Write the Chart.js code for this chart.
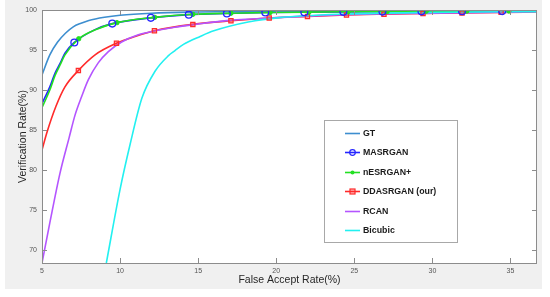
<!DOCTYPE html>
<html>
<head>
<meta charset="utf-8">
<script src="https://cdn.jsdelivr.net/npm/chart.js@4/dist/chart.umd.min.js"></script>
<style>
  html, body { margin:0; padding:0; background:#fff; }
  #wrap { width:550px; height:297px; }
</style>
</head>
<body>
<div id="wrap"><canvas id="chart"></canvas></div>
<script>
// ----- Dados
const seriesNames = ['GT', 'MASRGAN', 'nESRGAN+', 'DDASRGAN (our)', 'RCAN', 'Bicubic'];
const xTicks = [5, 10, 15, 20, 25, 30, 35];
const yTicks = [70, 75, 80, 85, 90, 95, 100];

const gtX = [5, 5.5, 6, 6.5, 7, 7.5, 8, 9, 10, 12, 15, 20, 25, 30, 36.7];
const gtY = [91.9, 94.4, 96.0, 97.1, 97.9, 98.35, 98.7, 99.1, 99.35, 99.6, 99.75, 99.87, 99.93, 99.97, 100];

const masX = [5, 5.5, 5.83, 6.15, 6.47, 8.4, 36.7];
const masY = [88.3, 90.4, 92.1, 93.3, 94.6, 97.55, 99.88];
const masMarkX = [7.07, 9.5, 11.97, 14.4, 16.84, 19.3, 21.8, 24.3, 26.8, 29.3, 31.9, 34.47];
const masMarkY = [95.95, 98.3, 99.02, 99.42, 99.57, 99.68, 99.73, 99.77, 99.8, 99.83, 99.85, 99.86];

const nesX = [5, 5.5, 5.83, 6.15, 6.47, 8.5, 36.7];
const nesY = [87.8, 90.0, 91.8, 93.1, 94.4, 97.6, 99.9];
const nesMarkX = [7.35, 9.8, 12.22, 14.66, 17.1, 19.6, 22.1, 24.6, 27.1, 29.6, 32.2, 34.9];
const nesMarkY = [96.4, 98.42, 99.08, 99.46, 99.6, 99.68, 99.74, 99.78, 99.81, 99.84, 99.86, 99.88];

const ddaX = [5, 5.3, 5.9, 6.47, 8.4, 10.96, 36.7];
const ddaY = [82.5, 84.6, 88.0, 90.4, 94.4, 96.7, 99.75];
const ddaMarkX = [7.33, 9.77, 12.2, 14.66, 17.1, 19.55, 22.0, 24.5, 26.9, 29.4, 31.9, 34.4];
const ddaMarkY = [92.45, 95.85, 97.42, 98.2, 98.65, 99.0, 99.2, 99.38, 99.48, 99.56, 99.62, 99.7];

const rcanX = [5, 5.5, 6.15, 6.73, 7.12, 7.54, 7.97, 8.6, 9.25, 10.1, 11.17, 12.24, 13.5, 15, 17, 20, 25, 30, 36.7];
const rcanY = [68.4, 73.4, 79.6, 84.0, 86.9, 89.2, 91.3, 93.4, 94.8, 96.0, 96.9, 97.4, 97.85, 98.25, 98.7, 99.05, 99.45, 99.6, 99.78];

const bicX = [9.12, 10.0, 10.64, 11.4, 12.24, 13.1, 13.5, 14.06, 15.13, 16, 18.2, 20.2, 24.5, 30, 36.7];
const bicY = [68.4, 77.6, 83.2, 89.0, 92.35, 94.3, 94.9, 95.7, 96.7, 97.4, 98.5, 99.05, 99.5, 99.7, 99.8];

// Paleta
const cGT = '#3d8ecf', cMAS = '#2525ff', cNES = '#22e022', cDDA = '#ff2a2a', cRCAN = '#b455ff', cBIC = '#22f0f0';
const colorsLeg = [cGT, cMAS, cNES, cDDA, cRCAN, cBIC];
const markLeg = [null, 'circle', 'dot', 'rect', null, null];
const fontFam = '"Liberation Sans", Arial, sans-serif';

// Helpers
const pts = (xs, ys) => xs.map((x, i) => ({ x, y: ys[i] }));
const merged = (xs, ys, mx, my) => pts(xs, ys).concat(pts(mx, my)).sort((a, b) => a.x - b.x);

const lineDs = (label, data, color, order) => ({
  label, data, order, showLine: true, borderColor: color, backgroundColor: color,
  borderWidth: 1.6, pointRadius: 0, cubicInterpolationMode: 'monotone'
});

// Fundo cinza + área branca
const bgPlugin = {
  id: 'bg',
  beforeDraw(chart) {
    const { ctx, chartArea: a } = chart;
    ctx.save();
    ctx.fillStyle = '#fff';
    ctx.fillRect(0, 0, chart.width, chart.height);
    ctx.fillStyle = '#f0f0f0';
    ctx.fillRect(5, 0, 537, 289);
    ctx.fillStyle = '#fff';
    ctx.fillRect(a.left, a.top, a.right - a.left, a.bottom - a.top);
    ctx.restore();
  }
};

// Moldura com ticks para dentro + legenda
const framePlugin = {
  id: 'frame',
  afterDraw(chart) {
    const { ctx, chartArea: a, scales } = chart;
    ctx.save();
    ctx.strokeStyle = '#8c8c8c';
    ctx.lineWidth = 1;
    ctx.strokeRect(a.left + 0.5, a.top + 0.5, a.right - a.left - 1, a.bottom - a.top);
    ctx.beginPath();
    xTicks.forEach(v => {
      const px = Math.round(scales.x.getPixelForValue(v)) + 0.5;
      ctx.moveTo(px, a.bottom); ctx.lineTo(px, a.bottom - 5);
      ctx.moveTo(px, a.top); ctx.lineTo(px, a.top + 5);
    });
    yTicks.forEach(v => {
      const py = Math.round(scales.y.getPixelForValue(v)) + 0.5;
      ctx.moveTo(a.left, py); ctx.lineTo(a.left + 5, py);
      ctx.moveTo(a.right, py); ctx.lineTo(a.right - 5, py);
    });
    ctx.stroke();

    // legenda
    ctx.fillStyle = '#fff';
    ctx.fillRect(324, 120, 133, 122);
    ctx.strokeStyle = '#a8a8a8';
    ctx.strokeRect(324.5, 120.5, 133, 122);
    ctx.font = 'bold 8.8px ' + fontFam;
    ctx.textBaseline = 'middle';
    seriesNames.forEach((name, i) => {
      const y = Math.round(133 + i * 19.4) + 0.5;
      const col = colorsLeg[i];
      ctx.strokeStyle = col; ctx.lineWidth = 1.6;
      ctx.beginPath(); ctx.moveTo(345, y); ctx.lineTo(360, y); ctx.stroke();
      ctx.lineWidth = 1.2;
      if (markLeg[i] === 'circle') {
        ctx.beginPath(); ctx.arc(352.5, y, 2.8, 0, Math.PI * 2); ctx.stroke();
      } else if (markLeg[i] === 'dot') {
        ctx.fillStyle = col; ctx.beginPath(); ctx.arc(352.5, y, 2, 0, Math.PI * 2); ctx.fill();
      } else if (markLeg[i] === 'rect') {
        ctx.fillStyle = 'rgba(255,42,42,0.3)'; ctx.fillRect(350, y - 2.5, 5, 5);
        ctx.strokeRect(350, y - 2.5, 5, 5);
      }
      ctx.fillStyle = '#1a1a1a';
      ctx.fillText(name, 363, y);
    });
    ctx.restore();
  }
};

new Chart(document.getElementById('chart'), {
  type: 'scatter',
  data: {
    datasets: [
      lineDs(seriesNames[0], pts(gtX, gtY), cGT, 6),
      lineDs(seriesNames[1], merged(masX, masY, masMarkX, masMarkY), cMAS, 5),
      lineDs(seriesNames[2], merged(nesX, nesY, nesMarkX, nesMarkY), cNES, 4),
      lineDs(seriesNames[3], merged(ddaX, ddaY, ddaMarkX, ddaMarkY), cDDA, 3),
      lineDs(seriesNames[4], pts(rcanX, rcanY), cRCAN, 2),
      lineDs(seriesNames[5], pts(bicX, bicY), cBIC, 1),
      { label: 'MASRGAN pts', data: pts(masMarkX, masMarkY), order: 0, pointStyle: 'circle',
        pointRadius: 3.4, borderColor: cMAS, backgroundColor: 'rgba(0,0,0,0)', borderWidth: 1.3 },
      { label: 'nESRGAN+ pts', data: pts(nesMarkX, nesMarkY), order: 0, pointStyle: 'circle',
        pointRadius: 2.2, borderColor: cNES, backgroundColor: cNES, borderWidth: 1 },
      { label: 'DDASRGAN pts', data: pts(ddaMarkX, ddaMarkY), order: 0, pointStyle: 'rect',
        pointRadius: 3, borderColor: cDDA, backgroundColor: 'rgba(255,42,42,0.3)', borderWidth: 1.2 }
    ]
  },
  options: {
    responsive: true, maintainAspectRatio: false, animation: false, devicePixelRatio: 1,
    layout: { padding: { left: 0, right: 13, top: 10, bottom: 0 } },
    scales: {
      x: {
        type: 'linear', min: 5, max: 36.7,
        afterFit: s => { s.height = 34; },
        grid: { display: false, drawTicks: false }, border: { display: false },
        ticks: { stepSize: 5, includeBounds: false, padding: 4, color: '#555',
                 font: { size: 7, family: fontFam } },
        title: { display: true, text: 'False Accept Rate(%)', color: '#262626', padding: { bottom: 11 },
                 font: { size: 10.5, family: fontFam } }
      },
      y: {
        type: 'linear', min: 68.4, max: 100,
        afterFit: s => { s.width = 42; },
        grid: { display: false, drawTicks: false }, border: { display: false },
        ticks: { stepSize: 5, includeBounds: false, padding: 5, color: '#555',
                 font: { size: 7, family: fontFam } },
        title: { display: true, text: 'Verification Rate(%)', color: '#262626', padding: { top: 17 },
                 font: { size: 10.5, family: fontFam } }
      }
    },
    plugins: { legend: { display: false }, tooltip: { enabled: false } }
  },
  plugins: [bgPlugin, framePlugin]
});
</script>
</body>
</html>
